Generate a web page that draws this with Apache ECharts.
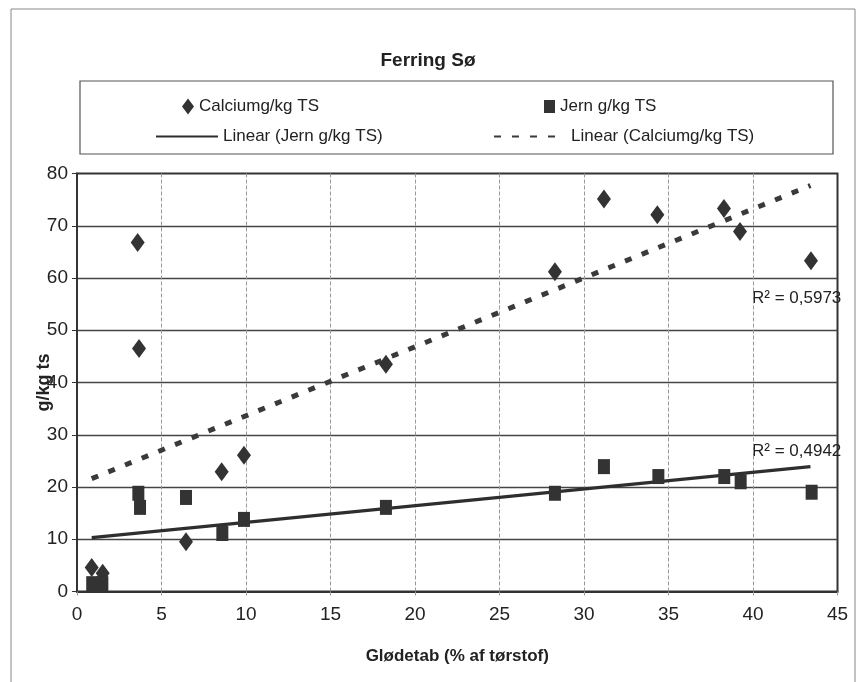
<!DOCTYPE html>
<html>
<head>
<meta charset="utf-8">
<title>Ferring Sø</title>
<script src="https://cdn.jsdelivr.net/npm/echarts@6/dist/echarts.min.js"></script>
<style>
  html, body { margin: 0; padding: 0; background: #fff; }
  #chart { width: 856px; height: 682px; }
</style>
</head>
<body>
<div id="chart"></div>
<script type="text/javascript">
// Glødetab (% af tørstof) vs Calcium, g/kg TS
var calcium = [
  [0.87, 4.6], [1.52, 3.5], [3.59, 66.8], [3.67, 46.5], [6.45, 9.5],
  [8.56, 22.9], [9.88, 26.1], [18.28, 43.5], [28.28, 61.2], [31.18, 75.1],
  [34.34, 72.1], [38.28, 73.3], [39.23, 68.9], [43.43, 63.3]
];
// Glødetab vs Jern, g/kg TS
var jern = [
  [0.9, 1.5], [1.5, 1.5], [3.63, 18.8], [3.73, 16.1], [6.45, 18.0],
  [8.6, 11.1], [9.88, 13.8], [18.28, 16.1], [28.28, 18.8], [31.18, 23.9],
  [34.4, 22.0], [38.3, 22.0], [39.27, 21.0], [43.47, 19.0]
];
// trend line ends
var calciumTrend = [[0.87, 21.6], [43.4, 77.7]];
var jernTrend = [[0.87, 10.3], [43.4, 23.9]];
var r2Calcium = 'R² = 0,5973';
var r2Jern = 'R² = 0,4942';

var FONT = "'Liberation Sans Narrow', 'Arial Narrow', 'Liberation Sans', Arial, sans-serif";
var INK = '#333';

var chart = echarts.init(document.getElementById('chart'));

function legendAt(name, left, top, w, h, hideSymbol) {
  var l = {
    data: [name],
    left: left, top: top,
    itemWidth: w, itemHeight: h,
    itemGap: 0,
    textStyle: { fontFamily: FONT, fontSize: 17, color: '#222' },
    selectedMode: false
  };
  if (hideSymbol) l.itemStyle = { opacity: 0 };
  return l;
}

chart.setOption({
  backgroundColor: '#fff',
  animation: false,
  title: {
    text: 'Ferring Sø',
    left: 'center', top: 46,
    textStyle: { fontFamily: FONT, fontSize: 19, fontWeight: 'bold', color: '#222' }
  },
  graphic: [
    { type: 'rect', shape: { x: 11, y: 9, width: 844, height: 680 },
      style: { fill: null, stroke: '#888', lineWidth: 1 }, silent: true, z: -1 },
    { type: 'rect', shape: { x: 80, y: 81, width: 753, height: 73 },
      style: { fill: null, stroke: '#555', lineWidth: 1.2 }, silent: true },
    { type: 'text', left: 752, top: 290,
      style: { text: r2Calcium, font: '17px ' + FONT, fill: '#222' } },
    { type: 'text', left: 752, top: 443,
      style: { text: r2Jern, font: '17px ' + FONT, fill: '#222' } }
  ],
  legend: [
    legendAt('Calciumg/kg TS', 177, 93, 12, 16),
    legendAt('Jern g/kg TS', 539, 93, 11, 13),
    legendAt('Linear (Jern g/kg TS)', 150, 123, 62, 14, true),
    legendAt('Linear (Calciumg/kg TS)', 488, 123, 72, 14, true)
  ],
  grid: {
    left: 77, top: 173.5, right: 18.5, bottom: 90.5,
    show: true, borderColor: '#333', borderWidth: 2
  },
  xAxis: {
    type: 'value', min: 0, max: 45, interval: 5,
    name: 'Glødetab (% af tørstof)',
    nameLocation: 'middle', nameGap: 56,
    nameTextStyle: { fontFamily: FONT, fontSize: 17, fontWeight: 'bold', color: '#222' },
    axisLine: { show: true, onZero: false, lineStyle: { color: '#333', width: 2 } },
    axisTick: { show: true, length: 4, lineStyle: { color: '#999' } },
    axisLabel: { fontFamily: FONT, fontSize: 19, color: '#222', margin: 14 },
    splitLine: { show: true, showMinLine: false, showMaxLine: false,
      lineStyle: { color: '#999', type: [4, 2], width: 1 } }
  },
  yAxis: {
    type: 'value', min: 0, max: 80, interval: 10,
    name: 'g/kg ts',
    nameLocation: 'middle', nameGap: 24, nameRotate: 90, nameMoveOverlap: false,
    nameTextStyle: { fontFamily: FONT, fontSize: 18, fontWeight: 'bold', color: '#222' },
    axisLine: { show: true, lineStyle: { color: '#333', width: 2 } },
    axisTick: { show: true, length: 5, lineStyle: { color: '#333' } },
    axisLabel: { fontFamily: FONT, fontSize: 19, color: '#222', margin: 9 },
    splitLine: { show: true, showMinLine: false, showMaxLine: false,
      lineStyle: { color: '#444', width: 1.3 } }
  },
  series: [
    {
      name: 'Linear (Jern g/kg TS)',
      type: 'line', data: jernTrend, showSymbol: false, symbol: 'none',
      lineStyle: { color: '#2e2e2e', width: 3.2 },
      itemStyle: { color: '#2e2e2e' }, z: 2
    },
    {
      name: 'Linear (Calciumg/kg TS)',
      type: 'line', data: calciumTrend, showSymbol: false, symbol: 'none',
      lineStyle: { color: '#3a3a3a', width: 5, type: [7, 11] },
      itemStyle: { color: '#3a3a3a' }, z: 2
    },
    {
      name: 'Calciumg/kg TS',
      type: 'scatter', data: calcium,
      symbol: 'diamond', symbolSize: [14, 19],
      itemStyle: { color: INK, opacity: 1 }, z: 3
    },
    {
      name: 'Jern g/kg TS',
      type: 'scatter', data: jern,
      symbol: 'rect', symbolSize: [12, 15],
      itemStyle: { color: INK, opacity: 1 }, z: 3
    }
  ]
});
</script>
</body>
</html>
